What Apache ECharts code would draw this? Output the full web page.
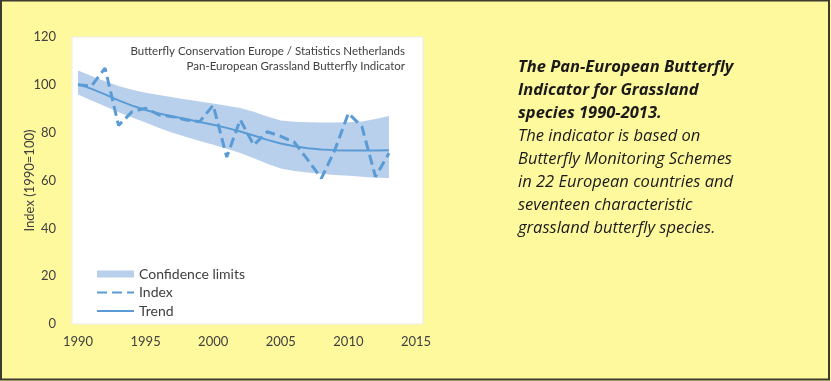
<!DOCTYPE html>
<html><head><meta charset="utf-8">
<script src="https://cdn.jsdelivr.net/npm/echarts@6/dist/echarts.min.js"></script>
<style>html,body{margin:0;padding:0;background:#FFF99E;overflow:hidden}#c{width:831px;height:381px}</style>
</head><body><div id="c"></div>
<script>
const years = [1990,1991,1992,1993,1994,1995,1996,1997,1998,1999,2000,2001,2002,2003,2004,2005,2006,2007,2008,2009,2010,2011,2012,2013];
const indexValues = [100,99.5,107,83,88.8,90.2,87.4,86.7,85.3,84.6,91.5,69.8,85.4,74.8,80.4,78.5,76,68.6,60.9,72.8,88.1,82.5,61.6,71.4];
const trendValues = [100.3,98.3,96,93.5,91.3,89.5,88,86.8,85.7,84.5,83.3,82,80.5,78.8,77,75.5,74.3,73.5,73,72.7,72.5,72.5,72.5,72.6];
const upperLimits = [106,103.7,101.5,99.5,97.9,96.7,95.7,94.8,93.9,93,92.2,91.3,90.3,88.7,86.8,85.1,84.6,84.4,84.3,84.3,84.4,84.7,85.7,87];
const lowerLimits = [96,93.5,91,88.5,86.3,84.2,82,80,78.2,76.5,75,73.3,71.5,69.3,67,65,64,63.3,62.8,62.3,62,61.6,61.2,61];
const xTicks = [1990,1995,2000,2005,2010,2015];
const yTicks = [0,20,40,60,80,100,120];
const seriesNames = ['Confidence limits','Index','Trend'];
const sourceLines = ['Butterfly Conservation Europe / Statistics Netherlands','Pan-European Grassland Butterfly Indicator'];
const headingLines = ['The Pan-European Butterfly','Indicator for Grassland','species 1990-2013.'];
const bodyLines = ['The indicator is based on','Butterfly Monitoring Schemes','in 22 European countries and','seventeen characteristic','grassland butterfly species.'];

const FONT = 'Lato';
const BLUE = '#5B9BD5';
const BAND = '#B8D0EC';
const TXT = '#404040';

const chart = echarts.init(document.getElementById('c'), null, {renderer:'canvas'});
const pair = arr => years.map((y,i)=>[y, arr[i]]);
const bandData = years.map((y,i)=>[y, lowerLimits[i], upperLimits[i]]);

const rich = {
  b:{fontFamily:'Open Sans',fontSize:16.5,fontStyle:'italic',fontWeight:'bold',color:'#1a1a1a',lineHeight:23},
  n:{fontFamily:'Open Sans',fontSize:16.5,fontStyle:'italic',fontWeight:'normal',color:'#1a1a1a',lineHeight:23}
};
const rightText = headingLines.map(l=>'{b|'+l+'}').concat(bodyLines.map(l=>'{n|'+l+'}')).join('\n');

function renderBand(params, api){
  if (params.dataIndex !== 0) return;
  const pts = [];
  for (let i=0;i<years.length;i++) pts.push(api.coord([years[i], upperLimits[i]]));
  for (let i=years.length-1;i>=0;i--) pts.push(api.coord([years[i], lowerLimits[i]]));
  return {type:'polygon', shape:{points:pts}, style:{fill:BAND}};
}

chart.setOption({
  backgroundColor:'#FFF99E',
  animation:false,
  textStyle:{fontFamily:FONT},
  title:[
    {text:sourceLines[0], right:426, top:45, padding:0, textStyle:{fontFamily:FONT,fontSize:11.5,fontWeight:'normal',color:TXT}},
    {text:sourceLines[1], right:426, top:60, padding:0, textStyle:{fontFamily:FONT,fontSize:11.5,fontWeight:'normal',color:TXT}},
    {text:rightText, left:518, top:56, padding:0, textStyle:{rich:rich}}
  ],
  graphic:[
    {type:'rect', z:-10, silent:true, shape:{x:72,y:37,width:351,height:287}, style:{fill:'#ffffff', stroke:'#ececec', lineWidth:1}},
    {type:'rect', z:100, silent:true, shape:{x:1,y:0.5,width:828,height:379}, style:{fill:null, stroke:'#3b3b2e', lineWidth:2}}
  ],
  grid:{left:78, right:415, top:37, bottom:57, containLabel:false},
  legend:{
    orient:'vertical', left:96, top:267, padding:0, itemWidth:37, itemHeight:7, itemGap:4.5,
    textStyle:{fontFamily:FONT,fontSize:14,color:TXT,lineHeight:14},
    data:[
      {name:seriesNames[0], icon:'rect', itemStyle:{color:BAND}},
      {name:seriesNames[1], itemStyle:{opacity:0}},
      {name:seriesNames[2], itemStyle:{opacity:0}}
    ],
    selectedMode:false
  },
  xAxis:{type:'value', min:xTicks[0], max:xTicks[xTicks.length-1], interval:5,
    axisLine:{show:false}, axisTick:{show:false}, splitLine:{show:false},
    axisLabel:{fontFamily:FONT,fontSize:13,color:TXT,margin:11, formatter:v=>String(v)}},
  yAxis:{type:'value', min:yTicks[0], max:yTicks[yTicks.length-1], interval:20,
    name:'Index (1990=100)', nameLocation:'middle', nameGap:42, nameMoveOverlap:false,
    nameTextStyle:{fontFamily:FONT,fontSize:13,color:TXT},
    axisLine:{show:false}, axisTick:{show:false}, splitLine:{show:false},
    axisLabel:{fontFamily:FONT,fontSize:13,color:TXT,margin:22, formatter:v=>String(v)}},
  series:[
    {name:seriesNames[0], type:'custom', data:bandData, renderItem:renderBand, color:BAND, itemStyle:{color:BAND}, silent:true, z:1, clip:true},
    {name:seriesNames[1], type:'line', data:pair(indexValues), symbol:'none', color:BLUE, lineStyle:{color:BLUE, width:3, type:[10,5]}, z:3},
    {name:seriesNames[2], type:'line', data:pair(trendValues), symbol:'none', color:BLUE, lineStyle:{color:BLUE, width:2}, z:2}
  ]
});
</script>
</body></html>
